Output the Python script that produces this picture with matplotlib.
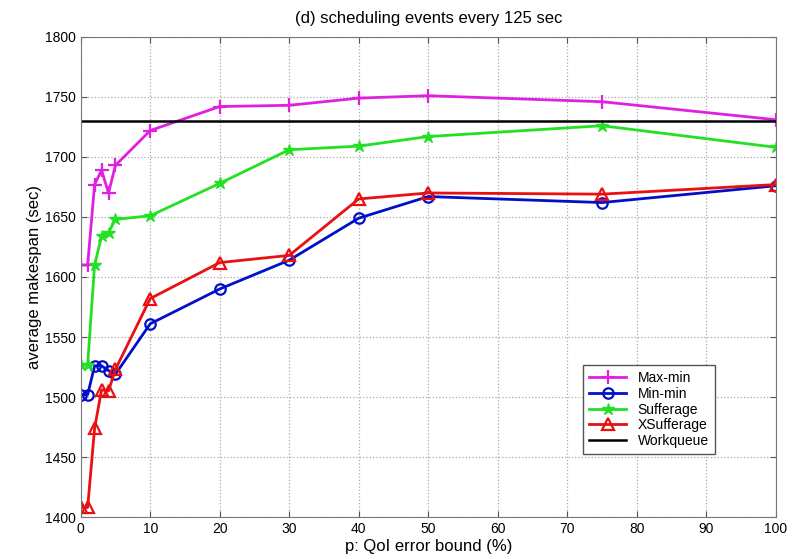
import matplotlib
matplotlib.use("Agg")
import matplotlib.pyplot as plt

plt.rcParams["font.family"] = ["Liberation Sans", "DejaVu Sans"]

# error bound p (%)
p = [0, 1, 2, 3, 4, 5, 10, 20, 30, 40, 50, 75, 100]

# average makespan (sec) per heuristic
max_min = [1610, 1610, 1677, 1689, 1670, 1693, 1722, 1742, 1743, 1749, 1751, 1746, 1731]
min_min = [1502, 1502, 1526, 1526, 1522, 1519, 1561, 1590, 1614, 1649, 1667, 1662, 1676]
sufferage = [1527, 1527, 1610, 1634, 1637, 1648, 1651, 1678, 1706, 1709, 1717, 1726, 1708]
xsufferage = [1408, 1408, 1474, 1506, 1505, 1523, 1582, 1612, 1618, 1665, 1670, 1669, 1677]
workqueue = 1730

xticks = [0, 10, 20, 30, 40, 50, 60, 70, 80, 90, 100]
yticks = [1400, 1450, 1500, 1550, 1600, 1650, 1700, 1750, 1800]

fig = plt.figure(figsize=(7.99, 5.59), dpi=100)
ax = fig.add_axes([0.101, 0.075, 0.870, 0.859])

ax.plot(p, max_min, color="#e020e0", marker="+", markersize=10, markeredgewidth=1.6,
        linewidth=2, label="Max-min")
ax.plot(p, min_min, color="#0010c8", marker="o", markersize=7.5, markerfacecolor="none",
        markeredgewidth=1.6, linewidth=2, label="Min-min")
ax.plot(p, sufferage, color="#22e022", marker="*", markersize=9, linewidth=2,
        label="Sufferage")
ax.plot(p, xsufferage, color="#e81010", marker="^", markersize=8, markerfacecolor="none",
        markeredgewidth=1.6, linewidth=2, label="XSufferage")
ax.plot([p[0], p[-1]], [workqueue, workqueue], color="black", linewidth=1.8,
        label="Workqueue")

ax.set_xlim(0, 100)
ax.set_ylim(1400, 1800)
ax.set_xticks(xticks)
ax.set_yticks(yticks)
ax.tick_params(direction="in", top=True, right=True, labelsize=10, length=4,
               color="#555555")
ax.grid(True, linestyle=":", color="#aaaaaa", linewidth=0.9)
for s in ax.spines.values():
    s.set_color("#777777")

ax.set_title("(d) scheduling events every 125 sec", fontsize=12, pad=10)
ax.set_xlabel("p: QoI error bound (%)", fontsize=12, labelpad=2)
ax.set_ylabel("average makespan (sec)", fontsize=12, labelpad=2)

leg = ax.legend(loc="lower left", bbox_to_anchor=(0.722, 0.131), borderaxespad=0,
                fontsize=10, fancybox=False, edgecolor="#555555", framealpha=1,
                handlelength=2.7, borderpad=0.45, labelspacing=0.12)

fig.savefig("out.png", dpi=100)
